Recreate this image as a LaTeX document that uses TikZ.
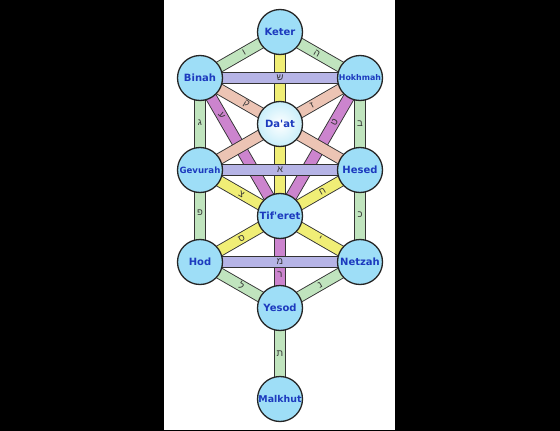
\documentclass[tikz,border=0pt]{standalone}
\usepackage{fontspec}
\newfontfamily\labfont{DejaVu Sans}
\newfontfamily\hebfont[Script=Hebrew]{Liberation Sans}
\pgfdeclarelayer{bg}
\pgfdeclarelayer{chan}
\pgfsetlayers{bg,chan,main}
\definecolor{sefc}{RGB}{158,222,247}
\definecolor{daatc}{RGB}{200,238,250}
\definecolor{labblue}{RGB}{28,58,190}
\definecolor{chgreen}{RGB}{192,228,190}
\definecolor{chyellow}{RGB}{240,238,118}
\definecolor{chlav}{RGB}{182,180,230}
\definecolor{chsalmon}{RGB}{236,196,180}
\definecolor{chmag}{RGB}{204,132,206}
\begin{document}
\begin{tikzpicture}[x=1pt,y=-1pt,
  sef/.style={circle, draw=black!85, line width=1.3pt, fill=sefc, minimum size=45pt,
    inner sep=0pt, text=labblue, font=\labfont\bfseries\fontsize{10}{12}\selectfont},
  ch/.style={draw=black!80, line width=0.9pt, double distance=10pt},
  grn/.style={ch, double=chgreen},
  yel/.style={ch, double=chyellow},
  lav/.style={ch, double=chlav},
  sal/.style={ch, double=chsalmon},
  mag/.style={ch, double=chmag},
  hl/.style={inner sep=0pt, text=black!80, font=\hebfont\fontsize{9.5}{9.5}\selectfont}]
\useasboundingbox (0,0) rectangle (560,431);
\begin{pgfonlayer}{bg}
  \fill[black] (0,0) rectangle (560,431);
  \fill[white] (164,0) rectangle (395,430);
\end{pgfonlayer}
% Sefirot
\node[sef] (K) at (280,32) {Keter};
\node[sef] (B) at (200,78) {Binah};
\node[sef, font=\labfont\bfseries\fontsize{7.9}{10}\selectfont] (H) at (360,78) {Hokhmah};
\node[sef, fill=none, shading=radial, inner color=white, outer color=daatc] (D) at (280,124) {Da'at};
\node[sef, font=\labfont\bfseries\fontsize{8.6}{10}\selectfont] (G) at (200,170) {Gevurah};
\node[sef] (C) at (360,170) {Hesed};
\node[sef] (T) at (280,216) {Tif'eret};
\node[sef] (O) at (200,262) {Hod};
\node[sef] (N) at (360,262) {Netzah};
\node[sef] (Y) at (280,308) {Yesod};
\node[sef, font=\labfont\bfseries\fontsize{9.4}{11}\selectfont] (M) at (280,399) {Malkhut};
\begin{pgfonlayer}{chan}
  % magenta
  \draw[mag] (B.center) -- node[hl,pos=.27,sloped]{ע} (T.center);
  \draw[mag] (H.center) -- node[hl,pos=.32,sloped]{ט} (T.center);
  \draw[mag] (T.center) -- node[hl,pos=.64]{ר} (Y.center);
  % salmon
  \draw[sal] (B.center) -- node[hl,pos=.29,sloped]{ק} (C.center);
  \draw[sal] (H.center) -- node[hl,pos=.3,sloped]{ז} (G.center);
  % yellow
  \draw[yel] (K.center) -- node[hl,pos=.61]{ד} (T.center);
  \draw[yel] (G.center) -- node[hl,pos=.52,sloped]{צ} (T.center);
  \draw[yel] (C.center) -- node[hl,pos=.47,sloped]{ח} (T.center);
  \draw[yel] (O.center) -- node[hl,pos=.52,sloped]{ס} (T.center);
  \draw[yel] (N.center) -- node[hl,pos=.5,sloped]{י} (T.center);
  % green
  \draw[grn] (K.center) -- node[hl,pos=.45,sloped]{ו} (B.center);
  \draw[grn] (K.center) -- node[hl,pos=.46,sloped]{ה} (H.center);
  \draw[grn] (B.center) -- node[hl,pos=.49]{ג} (G.center);
  \draw[grn] (H.center) -- node[hl,pos=.5]{ב} (C.center);
  \draw[grn] (G.center) -- node[hl,pos=.46]{פ} (O.center);
  \draw[grn] (C.center) -- node[hl,pos=.49]{כ} (N.center);
  \draw[grn] (O.center) -- node[hl,pos=.52,sloped]{ל} (Y.center);
  \draw[grn] (N.center) -- node[hl,pos=.5,sloped]{נ} (Y.center);
  \draw[grn] (Y.center) -- node[hl,pos=.5]{ת} (M.center);
  % lavender
  \draw[lav] (B.center) -- node[hl,pos=.5]{ש} (H.center);
  \draw[lav] (G.center) -- node[hl,pos=.5]{א} (C.center);
  \draw[lav] (O.center) -- node[hl,pos=.5]{מ} (N.center);
\end{pgfonlayer}
\end{tikzpicture}
\end{document}
